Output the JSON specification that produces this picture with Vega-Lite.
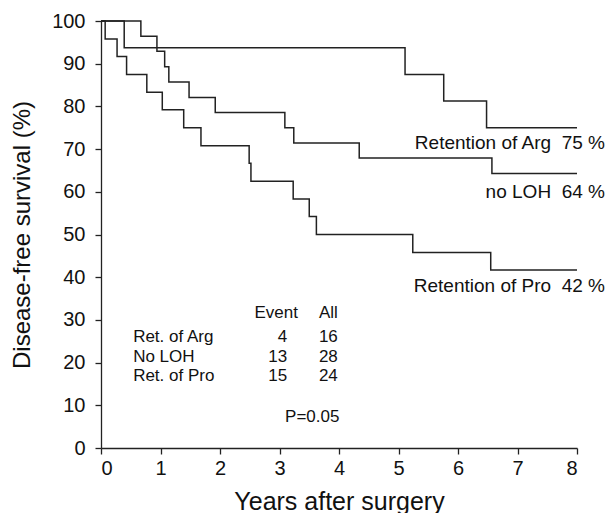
{
  "$schema": "https://vega.github.io/schema/vega-lite/v6.json",
  "width": 476,
  "height": 427,
  "autosize": {"type": "none"},
  "padding": {"left": 101, "top": 21, "right": 30, "bottom": 65},
  "background": "white",
  "config": {
    "view": {"stroke": null},
    "font": "Liberation Sans",
    "axis": {
      "grid": false,
      "domainColor": "#222",
      "tickColor": "#222",
      "labelColor": "#111",
      "titleColor": "#111",
      "labelFont": "Liberation Sans",
      "titleFont": "Liberation Sans",
      "labelFontSize": 20,
      "titleFontWeight": "normal",
      "domainWidth": 1.3,
      "tickWidth": 1.3,
      "tickSize": 6
    }
  },
  "datasets": {
    "curves": [
      {"group": "Arg", "year": 0, "surv": 100},
      {"group": "Arg", "year": 0.39, "surv": 93.75},
      {"group": "Arg", "year": 5.11, "surv": 87.5},
      {"group": "Arg", "year": 5.76, "surv": 81.25},
      {"group": "Arg", "year": 6.48, "surv": 75},
      {"group": "Arg", "year": 8, "surv": 75},
      {"group": "NoLOH", "year": 0, "surv": 100},
      {"group": "NoLOH", "year": 0.67, "surv": 96.4},
      {"group": "NoLOH", "year": 0.94, "surv": 92.9},
      {"group": "NoLOH", "year": 1.07, "surv": 89.3},
      {"group": "NoLOH", "year": 1.14, "surv": 85.7},
      {"group": "NoLOH", "year": 1.48, "surv": 82.1},
      {"group": "NoLOH", "year": 1.92, "surv": 78.6},
      {"group": "NoLOH", "year": 3.09, "surv": 75.0},
      {"group": "NoLOH", "year": 3.24, "surv": 71.4},
      {"group": "NoLOH", "year": 4.34, "surv": 67.9},
      {"group": "NoLOH", "year": 6.57, "surv": 64.3},
      {"group": "NoLOH", "year": 8, "surv": 64.3},
      {"group": "Pro", "year": 0, "surv": 100},
      {"group": "Pro", "year": 0.07, "surv": 95.8},
      {"group": "Pro", "year": 0.27, "surv": 91.7},
      {"group": "Pro", "year": 0.43, "surv": 87.5},
      {"group": "Pro", "year": 0.77, "surv": 83.3},
      {"group": "Pro", "year": 1.03, "surv": 79.2},
      {"group": "Pro", "year": 1.39, "surv": 75.0},
      {"group": "Pro", "year": 1.68, "surv": 70.8},
      {"group": "Pro", "year": 2.49, "surv": 66.7},
      {"group": "Pro", "year": 2.52, "surv": 62.5},
      {"group": "Pro", "year": 3.23, "surv": 58.3},
      {"group": "Pro", "year": 3.5, "surv": 54.2},
      {"group": "Pro", "year": 3.62, "surv": 50.0},
      {"group": "Pro", "year": 5.24, "surv": 45.8},
      {"group": "Pro", "year": 6.55, "surv": 41.7},
      {"group": "Pro", "year": 8, "surv": 41.7}
    ],
    "endLabels": [
      {"text": "Retention of Arg\u00a0\u00a075 %", "year": 8.47, "surv": 71.4},
      {"text": "no LOH\u00a0\u00a064 %", "year": 8.47, "surv": 60.0},
      {"text": "Retention of Pro\u00a0\u00a042 %", "year": 8.47, "surv": 37.9}
    ],
    "tableRight": [
      {"text": "Event", "year": 3.31, "surv": 31.7},
      {"text": "All", "year": 3.98, "surv": 31.7},
      {"text": "4", "year": 3.13, "surv": 26.0},
      {"text": "16", "year": 3.98, "surv": 26.0},
      {"text": "13", "year": 3.13, "surv": 21.3},
      {"text": "28", "year": 3.98, "surv": 21.3},
      {"text": "15", "year": 3.13, "surv": 16.9},
      {"text": "24", "year": 3.98, "surv": 16.9}
    ],
    "tableLeft": [
      {"text": "Ret. of Arg", "year": 0.54, "surv": 26.0},
      {"text": "No LOH", "year": 0.54, "surv": 21.3},
      {"text": "Ret. of Pro", "year": 0.54, "surv": 16.9}
    ],
    "pval": [
      {"text": "P=0.05", "year": 3.55, "surv": 7.2}
    ]
  },
  "layer": [
    {
      "data": {"name": "curves"},
      "mark": {"type": "line", "interpolate": "step-after", "color": "#222", "strokeWidth": 1.5},
      "encoding": {
        "x": {
          "field": "year", "type": "quantitative",
          "scale": {"domain": [0, 8], "nice": false},
          "axis": {"values": [0, 1, 2, 3, 4, 5, 6, 7, 8], "format": "d", "title": "Years after surgery", "titleFontSize": 25, "labelPadding": 4, "titlePadding": 11}
        },
        "y": {
          "field": "surv", "type": "quantitative",
          "scale": {"domain": [0, 100], "nice": false},
          "axis": {"values": [0, 10, 20, 30, 40, 50, 60, 70, 80, 90, 100], "format": "d", "title": "Disease-free survival (%)", "titleFontSize": 24, "labelPadding": 10, "titlePadding": 17}
        },
        "detail": {"field": "group"}
      }
    },
    {
      "data": {"name": "endLabels"},
      "mark": {"type": "text", "align": "right", "baseline": "middle", "fontSize": 19, "color": "#111"},
      "encoding": {
        "x": {"field": "year", "type": "quantitative"},
        "y": {"field": "surv", "type": "quantitative"},
        "text": {"field": "text"}
      }
    },
    {
      "data": {"name": "tableRight"},
      "mark": {"type": "text", "align": "right", "baseline": "middle", "fontSize": 17, "color": "#111"},
      "encoding": {
        "x": {"field": "year", "type": "quantitative"},
        "y": {"field": "surv", "type": "quantitative"},
        "text": {"field": "text"}
      }
    },
    {
      "data": {"name": "tableLeft"},
      "mark": {"type": "text", "align": "left", "baseline": "middle", "fontSize": 17, "color": "#111"},
      "encoding": {
        "x": {"field": "year", "type": "quantitative"},
        "y": {"field": "surv", "type": "quantitative"},
        "text": {"field": "text"}
      }
    },
    {
      "data": {"name": "pval"},
      "mark": {"type": "text", "align": "center", "baseline": "middle", "fontSize": 17, "color": "#111"},
      "encoding": {
        "x": {"field": "year", "type": "quantitative"},
        "y": {"field": "surv", "type": "quantitative"},
        "text": {"field": "text"}
      }
    }
  ]
}
